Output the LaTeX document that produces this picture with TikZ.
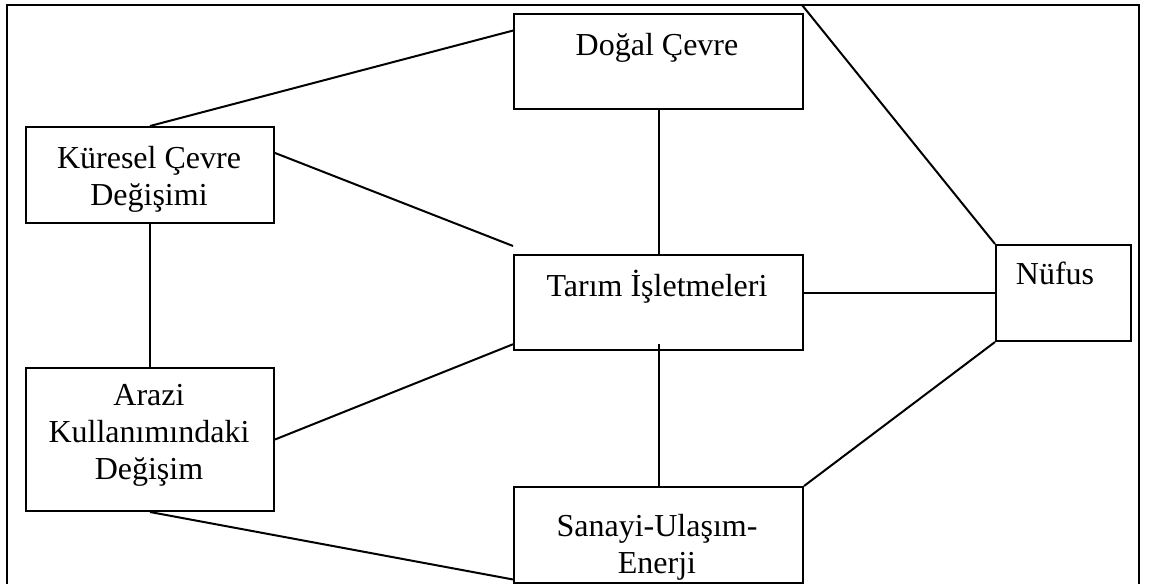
\documentclass[tikz,border=0pt]{standalone}
\usepackage{fontspec}
\setmainfont{Liberation Serif}
\tikzset{
  kutu/.style={draw, inner sep=0pt, anchor=north west},
  yazi/.style={anchor=base, align=center, inner sep=0pt, font=\fontsize{16}{18.5}\selectfont},
}
\begin{document}
\begin{tikzpicture}[x=0.5pt,y=-0.5pt,line width=1pt]
  \useasboundingbox (0,0) rectangle (1149,583);
  \draw (7,590) -- (7,5) -- (1139,5) -- (1139,590);
  \node[kutu, minimum width=144.5pt, minimum height=47.5pt] (D) at (513,13) {};
  \node[kutu, minimum width=124pt, minimum height=48pt] (K) at (25,126) {};
  \node[kutu, minimum width=144.5pt, minimum height=47.5pt] (T) at (513,254) {};
  \node[kutu, minimum width=67.5pt, minimum height=48pt] (N) at (995,244) {};
  \node[kutu, minimum width=124pt, minimum height=71.5pt] (A) at (25,367) {};
  \node[kutu, minimum width=144.5pt, minimum height=48pt] (S) at (513,486) {};
  % base = last line
  \node[yazi] (Dy) at (657,56) {Doğal Çevre};
  \node[yazi] (Ky) at (149,205) {Küresel Çevre\\Değişimi};
  \node[yazi] (Ty) at (657,296) {Tarım İşletmeleri};
  \node[yazi] (Ny) at (1055,284) {Nüfus};
  \node[yazi] (Ay) at (149,479) {Arazi\\Kullanımındaki\\Değişim};
  \node[yazi] (Sy) at (657,573) {Sanayi-Ulaşım-\\Enerji};
  \coordinate (KT) at (513,246);
  \coordinate (NU) at (802,5);
  \path (D.168) edge (K.north);
  \path (K.10) edge (KT);
  \path (D.south) edge (T.north);
  \path (T.east |- N.west) edge (N.west);
  \path (T.south) edge [shorten <=-3.5pt] (S.north);
  \path (A.east) edge (T.196);
  \path (A.south) edge (S.197);
  \path (K.south) edge (A.north);
  \path (N.north west) edge (NU);
  \path (N.south west) edge (S.north east);
\end{tikzpicture}
\end{document}
